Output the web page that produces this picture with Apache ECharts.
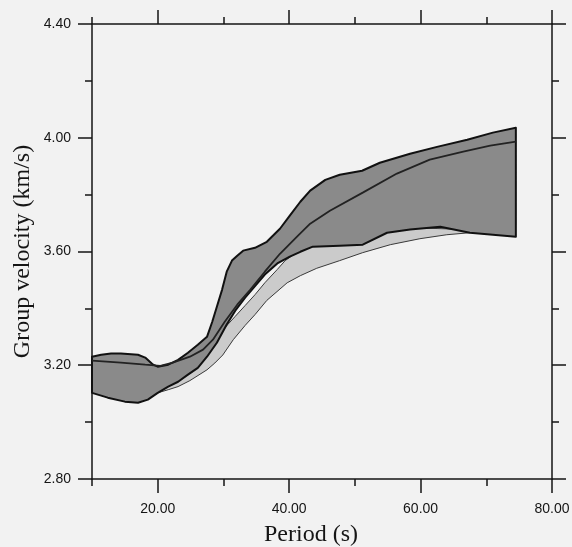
<!DOCTYPE html>
<html>
<head>
<meta charset="utf-8">
<script src="https://cdn.jsdelivr.net/npm/echarts@6/dist/echarts.min.js"></script>
<style>
html, body { margin: 0; padding: 0; background: #f2f2f2; }
#chart { width: 572px; height: 547px; }
</style>
</head>
<body>
<div id="chart"></div>
<script>
// [period (s), group velocity (km/s)]
let darkUpper = [[10, 3.23], [11.4, 3.237], [12.9, 3.241], [14.4, 3.241], [17, 3.237], [18.1, 3.227], [19.3, 3.202], [20, 3.195],
  [21.6, 3.202], [23.1, 3.219], [24.6, 3.244], [26.1, 3.272], [27.5, 3.30], [28.3, 3.353], [29, 3.406], [29.8, 3.466],
  [30.5, 3.529], [31.3, 3.568], [32.1, 3.585], [33, 3.603], [34.8, 3.613], [36.6, 3.634], [38.6, 3.68], [40.1, 3.726],
  [41.7, 3.775], [43.2, 3.814], [45.5, 3.852], [47.7, 3.87], [51.1, 3.884], [53.8, 3.912], [58.4, 3.944], [62.5, 3.968],
  [67.1, 3.993], [71, 4.018], [74.5, 4.035]];
let darkLower = [[10, 3.103], [12.4, 3.086], [15, 3.072], [17, 3.068], [18.5, 3.079], [20, 3.103], [21.6, 3.125], [23.1, 3.142],
  [24.6, 3.167], [26.1, 3.191], [27.5, 3.23], [29, 3.279], [30.5, 3.343], [31.8, 3.392], [33.3, 3.438], [34.8, 3.478],
  [36.3, 3.519], [38.2, 3.558], [40.1, 3.582], [41.7, 3.599], [43.6, 3.617], [47.7, 3.62], [51.2, 3.624], [54.9, 3.666],
  [58.4, 3.677], [63, 3.687], [67.5, 3.666], [74.5, 3.652]];
let meanLine = [[10, 3.216], [14.4, 3.209], [18.1, 3.202], [20.4, 3.198], [22.3, 3.209], [24.9, 3.23], [26.9, 3.255], [28.4, 3.29],
  [30.2, 3.353], [32.1, 3.413], [34.1, 3.466], [36.3, 3.529], [38.6, 3.592], [41.2, 3.652], [43.2, 3.698], [46.2, 3.743],
  [51.2, 3.807], [56.4, 3.874], [61.4, 3.923], [66.5, 3.951], [70.6, 3.972], [74.5, 3.986]];
let lightUpper = [[18.5, 3.107], [20.4, 3.156], [22.6, 3.184], [24.9, 3.219], [27.2, 3.255], [29.5, 3.314], [31.8, 3.372],
  [33.3, 3.41], [34.8, 3.448], [36.3, 3.49], [38.2, 3.537], [39.4, 3.568], [41.7, 3.606], [47.7, 3.641], [56.9, 3.685],
  [67.5, 3.677]];
let lightLower = [[18.5, 3.079], [20, 3.103], [21.6, 3.114], [23.1, 3.125], [24.9, 3.146], [27.5, 3.184], [28.7, 3.208],
  [29.9, 3.236], [31.5, 3.29], [33.3, 3.34], [34.8, 3.378], [36.6, 3.428], [39.7, 3.49], [41.7, 3.515], [44.2, 3.541],
  [47.7, 3.568], [51.2, 3.596], [55.4, 3.624], [59.9, 3.645], [64, 3.659], [67.5, 3.666]];

let xMajor = [20, 40, 60, 80];
let yMajor = [2.8, 3.2, 3.6, 4.0, 4.4];

let chartDom = document.getElementById('chart');
let myChart = echarts.init(chartDom);

let ink = '#151515';
let labelFont = { color: ink, fontFamily: 'Liberation Sans, Arial, sans-serif', fontSize: 14 };

function band(upper, lower, fill, stroke, width) {
  return {
    type: 'custom',
    silent: true,
    data: [upper[0]],
    renderItem: function(params, api) {
      let pts = upper.concat(lower.slice().reverse()).map(function(p) {
        return api.coord(p);
      });
      return {
        type: 'polygon',
        shape: { points: pts },
        style: { fill: fill, stroke: stroke, lineWidth: width, lineJoin: 'round' }
      };
    }
  };
}

function axis(base, extra) {
  return Object.assign({
    type: 'value',
    axisLine: { onZero: false, lineStyle: { color: ink, width: 1.5 } },
    axisTick: { lineStyle: { color: ink, width: 1.5 } },
    axisLabel: { show: false },
    splitLine: { show: false }
  }, base, extra);
}

let xBase = { min: 10, max: 80 };
let yBase = { min: 2.8, max: 4.4 };

let option = {
  backgroundColor: '#f2f2f2',
  animation: false,
  grid: { left: 92, right: 20, top: 24, bottom: 68, outerBoundsMode: 'none' },
  xAxis: [
    axis(xBase, {
      position: 'bottom', interval: 10,
      axisTick: { length: 7, lineStyle: { color: ink, width: 1.5 } },
      name: 'Period (s)', nameLocation: 'middle', nameGap: 44,
      nameTextStyle: { color: ink, fontFamily: 'Liberation Serif, Times New Roman, serif', fontSize: 24, padding: [0, 22, 0, 0] }
    }),
    axis(xBase, {
      position: 'bottom', axisLine: { show: false, onZero: false },
      axisTick: { customValues: xMajor, length: 14, lineStyle: { color: ink, width: 1.5 } },
      axisLabel: Object.assign({ customValues: xMajor, margin: 23, formatter: function(v) { return v.toFixed(2); } }, labelFont)
    }),
    axis(xBase, { position: 'top', interval: 10, axisTick: { length: 7, lineStyle: { color: ink, width: 1.5 } } }),
    axis(xBase, {
      position: 'top', axisLine: { show: false, onZero: false },
      axisTick: { customValues: xMajor, length: 14, lineStyle: { color: ink, width: 1.5 } }
    })
  ],
  yAxis: [
    axis(yBase, {
      position: 'left', interval: 0.2,
      axisTick: { length: 7, lineStyle: { color: ink, width: 1.5 } },
      name: 'Group velocity (km/s)', nameLocation: 'middle', nameGap: 57,
      nameTextStyle: { color: ink, fontFamily: 'Liberation Serif, Times New Roman, serif', fontSize: 24 }
    }),
    axis(yBase, {
      position: 'left', axisLine: { show: false, onZero: false },
      axisTick: { customValues: yMajor, length: 14, lineStyle: { color: ink, width: 1.5 } },
      axisLabel: Object.assign({ customValues: yMajor, margin: 21, formatter: function(v) { return v.toFixed(2); } }, labelFont)
    }),
    axis(yBase, { position: 'right', interval: 0.2, axisTick: { length: 7, lineStyle: { color: ink, width: 1.5 } } }),
    axis(yBase, {
      position: 'right', axisLine: { show: false, onZero: false },
      axisTick: { customValues: yMajor, length: 14, lineStyle: { color: ink, width: 1.5 } }
    })
  ],
  series: [
    band(lightUpper, lightLower, '#cbcbcb', '#3a3a3a', 1),
    band(darkUpper, darkLower, '#8a8a8a', '#111', 2),
    {
      type: 'line',
      silent: true,
      showSymbol: false,
      data: meanLine,
      lineStyle: { color: '#222', width: 1.8 }
    }
  ]
};

option && myChart.setOption(option);
</script>
</body>
</html>
